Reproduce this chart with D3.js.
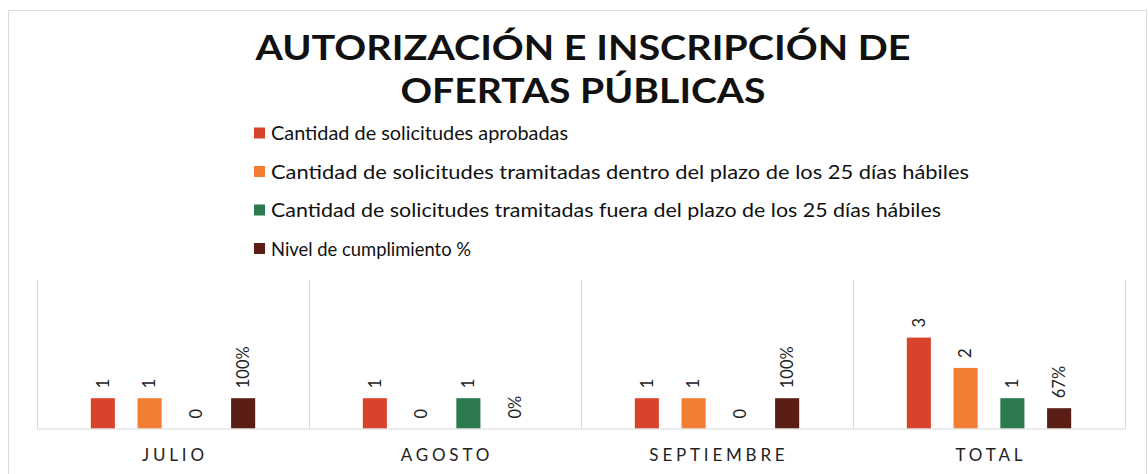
<!DOCTYPE html>
<html><head><meta charset="utf-8">
<script src="https://cdn.jsdelivr.net/npm/d3@7"></script>
<style>
html,body{margin:0;padding:0;background:#fff;}
svg{display:block;}
</style></head>
<body>
<svg id="chart" width="1148" height="474"></svg>
<script>
const categories = ["JULIO", "AGOSTO", "SEPTIEMBRE", "TOTAL"];
const seriesNames = [
  "Cantidad de solicitudes aprobadas",
  "Cantidad de solicitudes tramitadas dentro del plazo de los 25 días hábiles",
  "Cantidad de solicitudes tramitadas fuera del plazo de los 25 días hábiles",
  "Nivel de cumplimiento %"
];
const aprobadas = [1, 1, 1, 3];
const dentroPlazo = [1, 0, 1, 2];
const fueraPlazo = [0, 1, 0, 1];
const cumplimiento = [1.00, 0.00, 1.00, 0.67];
const colors = ["#d8432b", "#f27e31", "#2c7a4e", "#5a1e17"];
const titleLines = ["AUTORIZACIÓN E INSCRIPCIÓN DE", "OFERTAS PÚBLICAS"];

const seriesValues = [aprobadas, dentroPlazo, fueraPlazo, cumplimiento];
const fmt = [d3.format("d"), d3.format("d"), d3.format("d"), d3.format(".0%")];

const svg = d3.select("#chart");
const FONT = "Lato, 'Open Sans', sans-serif";

// outer chart border
svg.append("rect").attr("x", 8.5).attr("y", 10.5).attr("width", 1138).attr("height", 480)
  .attr("fill", "none").attr("stroke", "#dcdcdc").attr("stroke-width", 1);

// title
const titleWidths = [655, 365];
svg.append("g").selectAll("text").data(titleLines).join("text")
  .attr("x", 583).attr("y", (d, i) => 60 + i * 43)
  .attr("text-anchor", "middle")
  .attr("font-family", FONT).attr("font-weight", 700).attr("font-size", 35)
  .attr("textLength", (d, i) => titleWidths[i]).attr("lengthAdjust", "spacingAndGlyphs")
  .attr("fill", "#111").text(d => d);

// legend
const legWidths = [297, 698, 670, 200];
const leg = svg.append("g");
const legRows = leg.selectAll("g").data(seriesNames).join("g")
  .attr("transform", (d, i) => `translate(254, ${133 + i * 38.5})`);
legRows.append("rect").attr("x", 0).attr("y", -5.5).attr("width", 11).attr("height", 11)
  .attr("fill", (d, i) => colors[i]);
legRows.append("text").attr("x", 17).attr("y", 0).attr("dy", "0.36em")
  .attr("font-family", FONT).attr("font-size", 20)
  .attr("textLength", (d, i) => legWidths[i]).attr("lengthAdjust", "spacingAndGlyphs")
  .attr("fill", "#111").text(d => d);

// scales
const plotL = 37, plotR = 1125, plotTop = 280, base = 428.5;
const x = d3.scaleBand().domain(categories).range([plotL, plotR]).paddingInner(0).paddingOuter(0);
const y = d3.scaleLinear().domain([0, 4.9]).range([base, base - 4.9 * 30.3]);
const xs = d3.scaleBand().domain(d3.range(4)).range([-93.5, 93.5]).paddingInner(0.485).paddingOuter(0.242);

// separators
const sepX = [plotL, ...categories.map(c => x(c) + x.bandwidth())];
svg.append("g").selectAll("line").data(sepX).join("line")
  .attr("x1", d => Math.round(d) + 0.5).attr("x2", d => Math.round(d) + 0.5)
  .attr("y1", plotTop).attr("y2", base)
  .attr("stroke", "#d9d9d9").attr("stroke-width", 1);

// bars
const data = [];
categories.forEach((c, ci) => seriesValues.forEach((s, si) => data.push({c, si, v: s[ci]})));
const cx = d => x(d.c) + x.bandwidth() / 2 + xs(d.si);
svg.append("g").selectAll("rect").data(data).join("rect")
  .attr("x", d => cx(d)).attr("width", xs.bandwidth())
  .attr("y", d => y(d.v)).attr("height", d => y(0) - y(d.v))
  .attr("fill", d => colors[d.si]);

// baseline axis
const xAxis = d3.axisBottom(x).tickSize(0).tickPadding(20);
const ax = svg.append("g").attr("transform", `translate(0, ${base})`).call(xAxis);
ax.select(".domain").attr("stroke", "#d9d9d9");
ax.selectAll("text").attr("font-family", FONT).attr("font-size", 17)
  .attr("letter-spacing", "3.8px").attr("dx", "1.9px").attr("fill", "#222");

// value labels, rotated
svg.append("g").selectAll("text").data(data).join("text")
  .attr("transform", d => `translate(${cx(d) + xs.bandwidth() / 2}, ${y(d.v) - 10}) rotate(-90)`)
  .attr("text-anchor", "start").attr("dy", "0.35em")
  .attr("font-family", FONT).attr("font-size", 16.5).attr("fill", "#222")
  .text(d => fmt[d.si](d.v));
</script>
</body></html>
